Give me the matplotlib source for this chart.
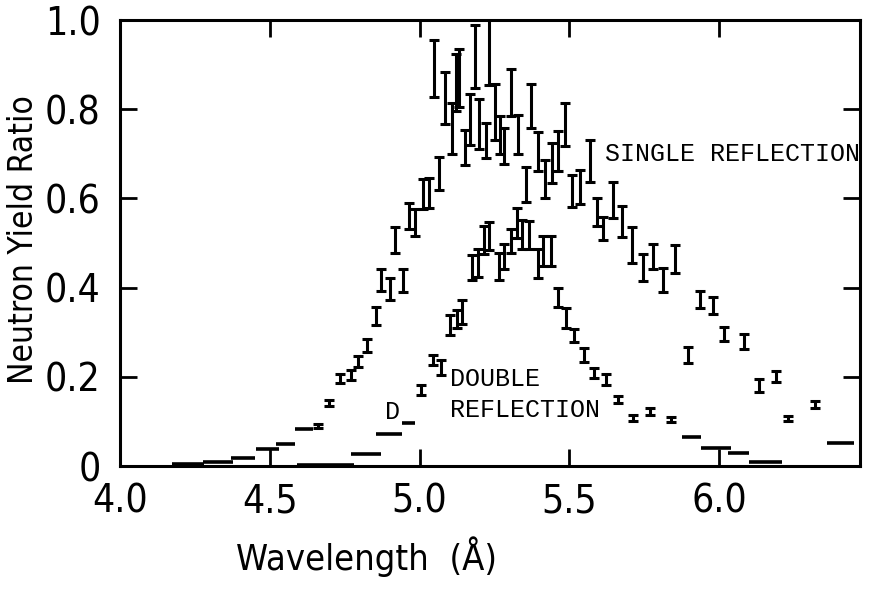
import matplotlib
matplotlib.use("Agg")
import matplotlib.pyplot as plt
from matplotlib import font_manager

# pick a narrow sans for the axis lettering if one is there
names = {f.name for f in font_manager.fontManager.ttflist}
if "Liberation Sans Narrow" in names:
    label_font = dict(family="Liberation Sans Narrow")
else:
    label_font = dict(family="DejaVu Sans", stretch="condensed")
mono = ["Liberation Mono", "DejaVu Sans Mono"]

# single reflection: wavelength (A), yield ratio, error
single_x = [4.660, 4.696, 4.735, 4.772, 4.795, 4.826, 4.854, 4.872, 4.900, 4.917,
            4.943, 4.964, 4.986, 5.013, 5.031, 5.047, 5.066, 5.086, 5.107, 5.120,
            5.131, 5.152, 5.167, 5.186, 5.199, 5.220, 5.231, 5.252, 5.270, 5.282,
            5.305, 5.328, 5.354, 5.371, 5.394, 5.417, 5.443, 5.461, 5.486, 5.509,
            5.535, 5.568, 5.592, 5.613, 5.646, 5.675, 5.709, 5.746, 5.780, 5.812,
            5.853, 5.895, 5.935, 5.979, 6.017, 6.084, 6.132, 6.188, 6.231, 6.321]
single_y = [0.090, 0.141, 0.196, 0.204, 0.234, 0.270, 0.337, 0.417, 0.397, 0.506,
            0.416, 0.560, 0.546, 0.610, 0.612, 0.891, 0.655, 0.825, 0.756, 0.859,
            0.870, 0.715, 0.776, 0.918, 0.767, 0.730, 0.929, 0.794, 0.742, 0.718,
            0.837, 0.744, 0.631, 0.807, 0.705, 0.643, 0.680, 0.706, 0.766, 0.617,
            0.625, 0.684, 0.570, 0.533, 0.596, 0.548, 0.496, 0.445, 0.469, 0.417,
            0.464, 0.249, 0.374, 0.360, 0.296, 0.279, 0.181, 0.201, 0.107, 0.138]
single_err = [0.004, 0.007, 0.011, 0.012, 0.012, 0.015, 0.020, 0.024, 0.024, 0.029,
              0.026, 0.029, 0.030, 0.033, 0.033, 0.064, 0.037, 0.059, 0.057, 0.064,
              0.065, 0.039, 0.057, 0.070, 0.056, 0.040, 0.074, 0.062, 0.042, 0.040,
              0.053, 0.044, 0.039, 0.050, 0.043, 0.042, 0.045, 0.045, 0.049, 0.036,
              0.038, 0.047, 0.032, 0.026, 0.040, 0.034, 0.040, 0.030, 0.028, 0.026,
              0.032, 0.017, 0.019, 0.020, 0.016, 0.017, 0.014, 0.012, 0.006, 0.008]
# low points drawn as wavelength-bin dashes
single_lo_start = [4.175, 4.276, 4.370, 4.455, 4.520, 4.585, 6.360]
single_lo_end = [4.280, 4.377, 4.450, 4.530, 4.585, 4.645, 6.450]
single_lo_y = [0.004, 0.009, 0.018, 0.038, 0.050, 0.083, 0.052]

# double reflection
double_x = [5.005, 5.044, 5.072, 5.100, 5.124, 5.142, 5.174, 5.194, 5.215, 5.232,
            5.265, 5.282, 5.306, 5.324, 5.343, 5.366, 5.396, 5.413, 5.437, 5.463,
            5.488, 5.515, 5.550, 5.582, 5.621, 5.663, 5.712, 5.768, 5.839]
double_y = [0.170, 0.238, 0.221, 0.316, 0.330, 0.346, 0.444, 0.455, 0.507, 0.516,
            0.447, 0.470, 0.504, 0.545, 0.519, 0.518, 0.454, 0.482, 0.482, 0.378,
            0.332, 0.292, 0.249, 0.208, 0.194, 0.149, 0.108, 0.122, 0.104]
double_err = [0.011, 0.012, 0.016, 0.023, 0.020, 0.027, 0.028, 0.031, 0.031, 0.032,
              0.031, 0.028, 0.027, 0.034, 0.032, 0.032, 0.033, 0.034, 0.034, 0.021,
              0.022, 0.015, 0.015, 0.011, 0.013, 0.007, 0.006, 0.008, 0.006]
double_lo_start = [4.590, 4.770, 4.855, 4.940, 5.875, 5.940, 6.030, 6.100]
double_lo_end = [4.780, 4.870, 4.940, 4.985, 5.940, 6.040, 6.100, 6.210]
double_lo_y = [0.003, 0.028, 0.071, 0.097, 0.064, 0.041, 0.029, 0.008]

fig = plt.figure(figsize=(8.75, 5.9), dpi=100)
ax = fig.add_axes([120 / 875, 1 - 466 / 590, 740 / 875, 446 / 590])

eb = dict(fmt="none", ecolor="black", elinewidth=2.2, capsize=3.5, capthick=2.2)
ax.errorbar(single_x, single_y, yerr=single_err, **eb)
ax.errorbar(double_x, double_y, yerr=double_err, **eb)
ax.hlines(single_lo_y, single_lo_start, single_lo_end, colors="black", lw=2.6)
ax.hlines(double_lo_y, double_lo_start, double_lo_end, colors="black", lw=2.6)

ax.set_xlim(4.0, 6.47)
ax.set_ylim(0, 1.0)
ax.set_xticks([4.0, 4.5, 5.0, 5.5, 6.0])
ax.set_xticklabels(["4.0", "4.5", "5.0", "5.5", "6.0"], **label_font)
ax.set_yticks([0, 0.2, 0.4, 0.6, 0.8, 1.0])
ax.set_yticklabels(["0", "0.2", "0.4", "0.6", "0.8", "1.0"], **label_font)
ax.tick_params(direction="in", length=12, width=2, labelsize=28,
               top=True, right=True)
ax.tick_params(axis="x", pad=12)
ax.tick_params(axis="y", pad=14)
for s in ax.spines.values():
    s.set_linewidth(2.2)

# axis titles placed where the original lettering sits
fig.text(24 / 875, 1 - 240 / 590, "Neutron Yield Ratio", fontsize=24,
         rotation=90, ha="center", va="center", **label_font)
fig.text(367 / 875, 1 - 557 / 590, "Wavelength  (Å)", fontsize=26,
         ha="center", va="center", **label_font)

ax.text(5.62, 0.70, "SINGLE REFLECTION", fontsize=18, family=mono, va="center")
ax.text(5.10, 0.196, "DOUBLE", fontsize=18, family=mono, va="center")
ax.text(5.10, 0.125, "REFLECTION", fontsize=18, family=mono, va="center")
ax.text(4.908, 0.12, "D", fontsize=18, family=mono, ha="center", va="center")

fig.savefig("out.png", dpi=100)
